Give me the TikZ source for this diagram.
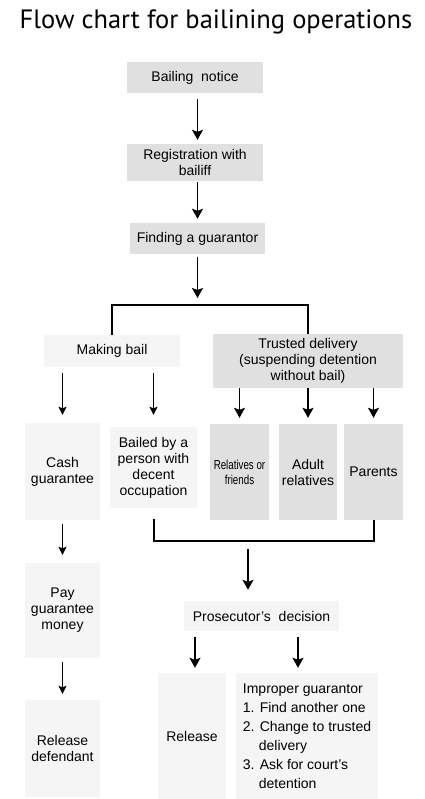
\documentclass[tikz,border=0pt]{standalone}
\usepackage{fontspec}
\setmainfont{Liberation Sans}
\newfontfamily\titlefont{PT Sans}
\newfontfamily\narrowfont[FakeStretch=0.75]{Liberation Sans}
\usetikzlibrary{arrows.meta,calc}
\definecolor{boxdark}{gray}{0.88}
\definecolor{boxlight}{gray}{0.96}

\begin{document}
\begin{tikzpicture}[x=1pt,y=-1pt,
    box/.style={inner sep=0pt, align=center, font=\fontsize{14}{16}\selectfont},
    darkbox/.style={box, fill=boxdark},
    lightbox/.style={box, fill=boxlight},
    arr/.style={line width=1.6pt, -{Stealth[length=10pt,width=11pt,inset=2pt]}},
    thinarr/.style={line width=1.1pt, -{Stealth[length=8pt,width=8pt,inset=1.5pt]}},
    bracket/.style={line width=2pt}]
    \useasboundingbox[fill=white] (0,0) rectangle (424,799);% page size
    \node[font=\titlefont\fontsize{26.5}{30}\selectfont, anchor=base] (title) at (216,29) {Flow chart for bailining operations};
    % main column
    \node[darkbox, minimum width=136pt, minimum height=31pt] (bn) at (195,77.5) {Bailing\ \ notice};
    \node[darkbox, minimum width=136pt, minimum height=37pt] (reg) at (195,162.5) {Registration with\\bailiff};
    \node[darkbox, minimum width=135pt, minimum height=31pt] (fg) at (197.5,238.5) {Finding a guarantor};
    \coordinate (fork) at (197.5,305);
    % two ways
    \node[lightbox, minimum width=136pt, minimum height=32pt] (mb) at (112,351) {Making bail};
    \node[darkbox, minimum width=190pt, minimum height=54pt] (td) at (308,361) {Trusted delivery\\(suspending detention\\without bail)};
    \node[lightbox, minimum width=75pt, minimum height=97pt] (cash) at (62.5,471.5) {Cash\\guarantee};
    \node[lightbox, minimum width=87pt, minimum height=81pt] (bailed) at (153.5,467.5) {Bailed by a\\person with\\decent\\occupation};
    \node[darkbox, minimum width=59pt, minimum height=96pt, font=\narrowfont\fontsize{13}{15}\selectfont] (rf) at (239.5,472) {Relatives or\\friends};
    \node[darkbox, minimum width=58pt, minimum height=96pt] (ar) at (308,472) {Adult\\relatives};
    \node[darkbox, minimum width=59pt, minimum height=96pt] (par) at (373.5,472) {Parents};
    \node[lightbox, minimum width=75pt, minimum height=95pt] (pay) at (62.5,610.5) {Pay\\guarantee\\money};
    \node[lightbox, minimum width=75pt, minimum height=97pt] (rd) at (62.5,748.5) {Release\\defendant};
    \coordinate (join) at (248,541);
    \node[lightbox, minimum width=155pt, minimum height=30pt] (pd) at (261.5,616) {Prosecutor's\ \ decision};
    \node[lightbox, minimum width=68pt, minimum height=126pt] (rel) at (192,736) {Release};
    \node[lightbox, minimum width=142pt, minimum height=126pt, align=left, font=\fontsize{14}{19}\selectfont] (imp) at (307,736)
        {Improper guarantor\\1. Find another one\\2. Change to trusted\\\rule{16pt}{0pt}delivery\\3. Ask for court's\\\rule{16pt}{0pt}detention};
    % connectors
    \draw[arr, shorten <=6pt, shorten >=4pt] (bn.south -| fg) -- (reg.north -| fg);
    \draw[arr, shorten <=1pt, shorten >=4pt] (reg.south -| fg) -- (fg.north);
    \draw[arr, shorten <=3pt, shorten >=7pt] (fg.south) -- (fork);
    \draw[bracket] (mb.north) |- (fork) -| (td.north);
    \draw[thinarr, shorten <=6pt, shorten >=8pt] (mb.south -| cash) -- (cash.north);
    \draw[thinarr, shorten <=6pt, shorten >=12pt] (mb.south -| bailed) -- (bailed.north);
    \foreach \n in {rf,ar,par}
        \draw[arr, shorten >=6pt] (td.south -| \n) -- (\n.north);
    \draw[thinarr, shorten <=4pt, shorten >=8pt] (cash.south) -- (pay.north);
    \draw[thinarr, shorten <=4pt, shorten >=6pt] (pay.south) -- (rd.north);
    \draw[bracket] ([yshift=-11pt]bailed.south) |- (join) -| (par.south);
    \draw[arr, shorten <=8pt, shorten >=11pt] (join) -- (join |- pd.north);
    \draw[arr, shorten <=6pt, shorten >=5pt] ($(pd.south -| rel)+(3,0)$) -- ($(rel.north)+(3,0)$);
    \draw[arr, shorten <=6pt, shorten >=5pt] ($(pd.south -| imp)+(-9,0)$) -- ($(imp.north)+(-9,0)$);
\end{tikzpicture}
\end{document}
